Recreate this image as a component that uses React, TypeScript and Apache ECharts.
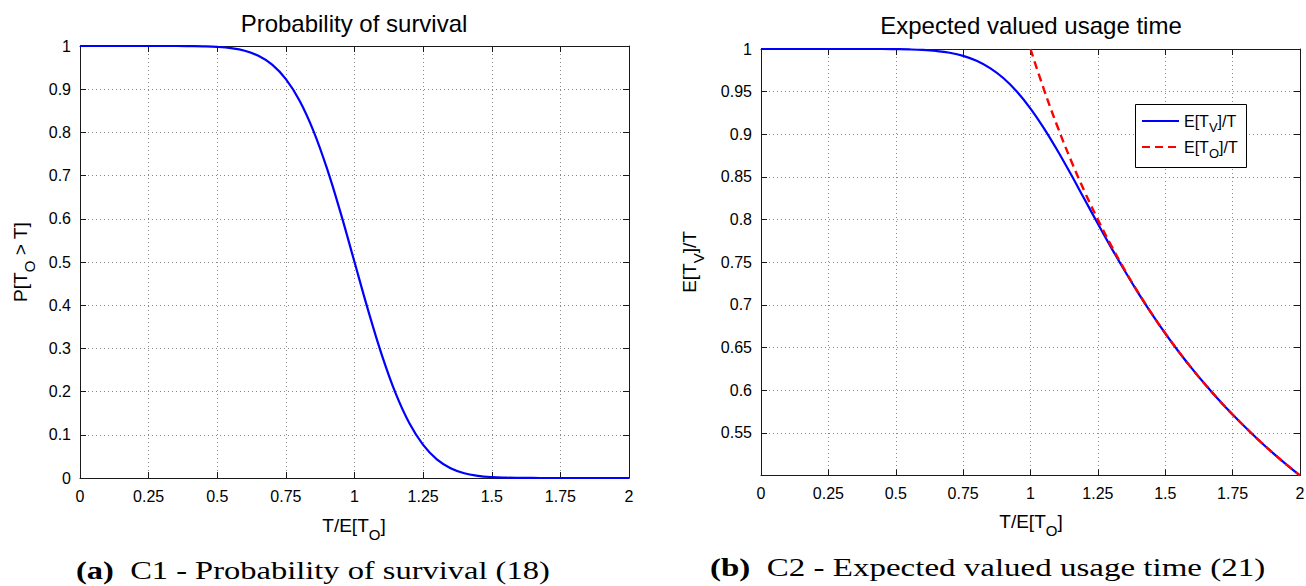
import React, { useEffect, useRef } from 'react';
import * as echarts from 'echarts';

// Sample positions T/E[T_O]
const T_VALUES = [
  0, 0.05, 0.1, 0.15, 0.2, 0.25, 0.3, 0.35, 0.4, 0.45,
  0.5, 0.55, 0.6, 0.65, 0.7, 0.75, 0.8, 0.85, 0.9, 0.95,
  1, 1.05, 1.1, 1.15, 1.2, 1.25, 1.3, 1.35, 1.4, 1.45,
  1.5, 1.55, 1.6, 1.65, 1.7, 1.75, 1.8, 1.85, 1.9, 1.95, 2,
];

// (a) P[T_O > T]
const SURVIVAL = [
  1, 1, 1, 1, 1, 1, 1, 1, 0.9997, 0.9992,
  0.9979, 0.9949, 0.9889, 0.9772, 0.9568, 0.9234, 0.8735, 0.8043, 0.7161, 0.6125,
  0.5, 0.3875, 0.2839, 0.1957, 0.1265, 0.0766, 0.0432, 0.0228, 0.0111, 0.0051,
  0.0021, 0.0008, 0.0003, 0.0001, 0, 0, 0, 0, 0, 0, 0,
];

// (b) E[T_V]/T
const USAGE_TV = [
  1, 1, 1, 1, 1, 1, 1, 1, 1, 1,
  0.9998, 0.9995, 0.9989, 0.9977, 0.9956, 0.992, 0.9862, 0.9776, 0.9657, 0.9499,
  0.9302, 0.907, 0.881, 0.8531, 0.8241, 0.7952, 0.7669, 0.7397, 0.7138, 0.6895,
  0.6666, 0.6451, 0.625, 0.6061, 0.5882, 0.5714, 0.5556, 0.5405, 0.5263, 0.5128, 0.5,
];

// (b) E[T_O]/T, drawn from T = 1
const T_RED = [
  1, 1.05, 1.1, 1.15, 1.2, 1.25, 1.3, 1.35, 1.4, 1.45,
  1.5, 1.55, 1.6, 1.65, 1.7, 1.75, 1.8, 1.85, 1.9, 1.95, 2,
];
const USAGE_TO = [
  1, 0.9524, 0.9091, 0.8696, 0.8333, 0.8, 0.7692, 0.7407, 0.7143, 0.6897,
  0.6667, 0.6452, 0.625, 0.6061, 0.5882, 0.5714, 0.5556, 0.5405, 0.5263, 0.5128, 0.5,
];

const SERIES_TV = 'E[T_V]/T';
const SERIES_TO = 'E[T_O]/T';

const TITLE_A = 'Probability of survival';
const TITLE_B = 'Expected valued usage time';
const CAPTION_A = ['(a)', '  C1 - Probability of survival (18)'];
const CAPTION_B = ['(b)', '  C2 - Expected valued usage time (21)'];

const SANS = '"Liberation Sans", Arial, Helvetica, sans-serif';
const SERIF = '"Liberation Serif", "Times New Roman", serif';
const INK = '#1a1a1a';

function subText(pre: string, sub: string, post: string) {
  return `{m|${pre}}{s|${sub}}{m|${post}}`;
}

function axisRich(main: number, subSize: number, lh: number) {
  return {
    m: { fontSize: main, fontFamily: SANS, fill: '#000', lineHeight: lh, verticalAlign: 'middle' },
    s: { fontSize: subSize, fontFamily: SANS, fill: '#000', verticalAlign: 'bottom' },
  };
}

export default function App() {
  const ref = useRef<HTMLDivElement>(null);

  useEffect(() => {
    if (!ref.current) return;
    const chart = echarts.init(ref.current, undefined, { renderer: 'svg' });

    const axisLine = { show: true, onZero: false, lineStyle: { color: INK, width: 1 } };
    const tickIn = { show: true, inside: true, length: 6, lineStyle: { color: INK, width: 1 } };
    const split = { show: true, lineStyle: { color: '#8a8a8a', width: 1, type: [1, 3] as any } };
    const label = { show: true, fontSize: 16, color: '#000', fontFamily: SANS };

    const xAx = (gridIndex: number, position: 'bottom' | 'top') => ({
      gridIndex,
      type: 'value',
      min: 0,
      max: 2,
      interval: 0.25,
      position,
      axisLine,
      axisTick: tickIn,
      axisLabel: position === 'bottom' ? { ...label, margin: 10 } : { show: false },
      splitLine: position === 'bottom' ? split : { show: false },
    });

    const yAx = (gridIndex: number, position: 'left' | 'right', min: number, interval: number) => ({
      gridIndex,
      type: 'value',
      min,
      max: 1,
      interval,
      position,
      axisLine,
      axisTick: tickIn,
      axisLabel:
        position === 'left'
          ? {
              ...label,
              margin: 9,
              formatter: (v: number) => (min > 0 && Math.abs(v - min) < 1e-9 ? '' : String(+v.toFixed(2))),
            }
          : { show: false },
      splitLine: position === 'left' ? split : { show: false },
    });

    const textEl = (x: number, y: number, text: string, size: number) => ({
      type: 'text',
      x,
      y,
      silent: true,
      style: { text, fontSize: size, fontFamily: SANS, fill: '#000', align: 'center', verticalAlign: 'middle' },
    });

    const richEl = (x: number, y: number, text: string, rotation: number) => ({
      type: 'text',
      x,
      y,
      rotation,
      silent: true,
      style: {
        text,
        rich: axisRich(19, 15, 34),
        align: 'center',
        verticalAlign: 'middle',
        fill: '#000',
      },
    });

    const captionEl = (x: number, y: number, parts: string[], scaleX: number) => ({
      type: 'text',
      x,
      y,
      scaleX,
      silent: true,
      style: {
        text: `{b|${parts[0]}}{r|${parts[1]}}`,
        rich: {
          b: { fontSize: 25, fontFamily: SERIF, fontWeight: 'bold', fill: '#000' },
          r: { fontSize: 25, fontFamily: SERIF, fill: '#000' },
        },
        align: 'left',
        verticalAlign: 'middle',
        fill: '#000',
      },
    });

    const lineSeries = {
      type: 'line',
      symbol: 'none',
      showSymbol: false,
      smooth: 0.4,
    };

    const option: any = {
      animation: false,
      backgroundColor: '#ffffff',
      grid: [
        { left: 80, top: 46, width: 549, height: 432, outerBoundsMode: 'none', containLabel: false },
        { left: 761, top: 49, width: 539, height: 426.5, outerBoundsMode: 'none', containLabel: false },
      ],
      xAxis: [xAx(0, 'bottom'), xAx(0, 'top'), xAx(1, 'bottom'), xAx(1, 'top')],
      yAxis: [yAx(0, 'left', 0, 0.1), yAx(0, 'right', 0, 0.1), yAx(1, 'left', 0.5, 0.05), yAx(1, 'right', 0.5, 0.05)],
      legend: {
        show: true,
        orient: 'vertical',
        left: 1141,
        top: 113,
        padding: 0,
        itemWidth: 37,
        itemHeight: 14,
        itemGap: 5,
        selectedMode: false,
        z: 60,
        itemStyle: { opacity: 0, borderWidth: 0 },
        data: [SERIES_TV, SERIES_TO],
        formatter: (name: string) =>
          name === SERIES_TV ? subText('E[T', 'V', ']/T') : subText('E[T', 'O', ']/T'),
        textStyle: {
          rich: {
            m: { fontSize: 16, fontFamily: SANS, color: '#000', lineHeight: 26, verticalAlign: 'middle' },
            s: { fontSize: 13, fontFamily: SANS, color: '#000', verticalAlign: 'bottom' },
          },
        },
      },
      series: [
        {
          ...lineSeries,
          name: 'P[T_O > T]',
          xAxisIndex: 0,
          yAxisIndex: 0,
          data: T_VALUES.map((t, i) => [t, SURVIVAL[i]]),
          lineStyle: { color: '#0000ff', width: 2.2 },
          itemStyle: { color: '#0000ff' },
          z: 3,
        },
        {
          ...lineSeries,
          name: SERIES_TV,
          xAxisIndex: 2,
          yAxisIndex: 2,
          data: T_VALUES.map((t, i) => [t, USAGE_TV[i]]),
          lineStyle: { color: '#0000ff', width: 2.2 },
          itemStyle: { color: '#0000ff' },
          z: 3,
        },
        {
          ...lineSeries,
          name: SERIES_TO,
          xAxisIndex: 2,
          yAxisIndex: 2,
          data: T_RED.map((t, i) => [t, USAGE_TO[i]]),
          lineStyle: { color: '#ff0000', width: 2.4, type: [8, 5], cap: 'butt' },
          itemStyle: { color: '#ff0000' },
          z: 4,
        },
      ],
      graphic: [
        textEl(354, 23, TITLE_A, 24),
        textEl(1031, 25, TITLE_B, 24),
        richEl(354, 525, subText('T/E[T', 'O', ']'), 0),
        richEl(1031, 521, subText('T/E[T', 'O', ']'), 0),
        richEl(20, 262, subText('P[T', 'O', ' > T]'), Math.PI / 2),
        richEl(689, 262, subText('E[T', 'V', ']/T'), Math.PI / 2),
        {
          type: 'rect',
          z: 50,
          silent: true,
          shape: { x: 1135.5, y: 104.5, width: 111, height: 63 },
          style: { fill: '#ffffff', stroke: '#000', lineWidth: 1 },
        },
        captionEl(76, 570, CAPTION_A, 1.3),
        captionEl(710, 567, CAPTION_B, 1.32),
      ],
    };

    chart.setOption(option);
    return () => chart.dispose();
  }, []);

  return (
    <div
      ref={ref}
      style={{ position: 'fixed', left: 0, top: 0, width: 1306, height: 586, background: '#fff' }}
    />
  );
}
